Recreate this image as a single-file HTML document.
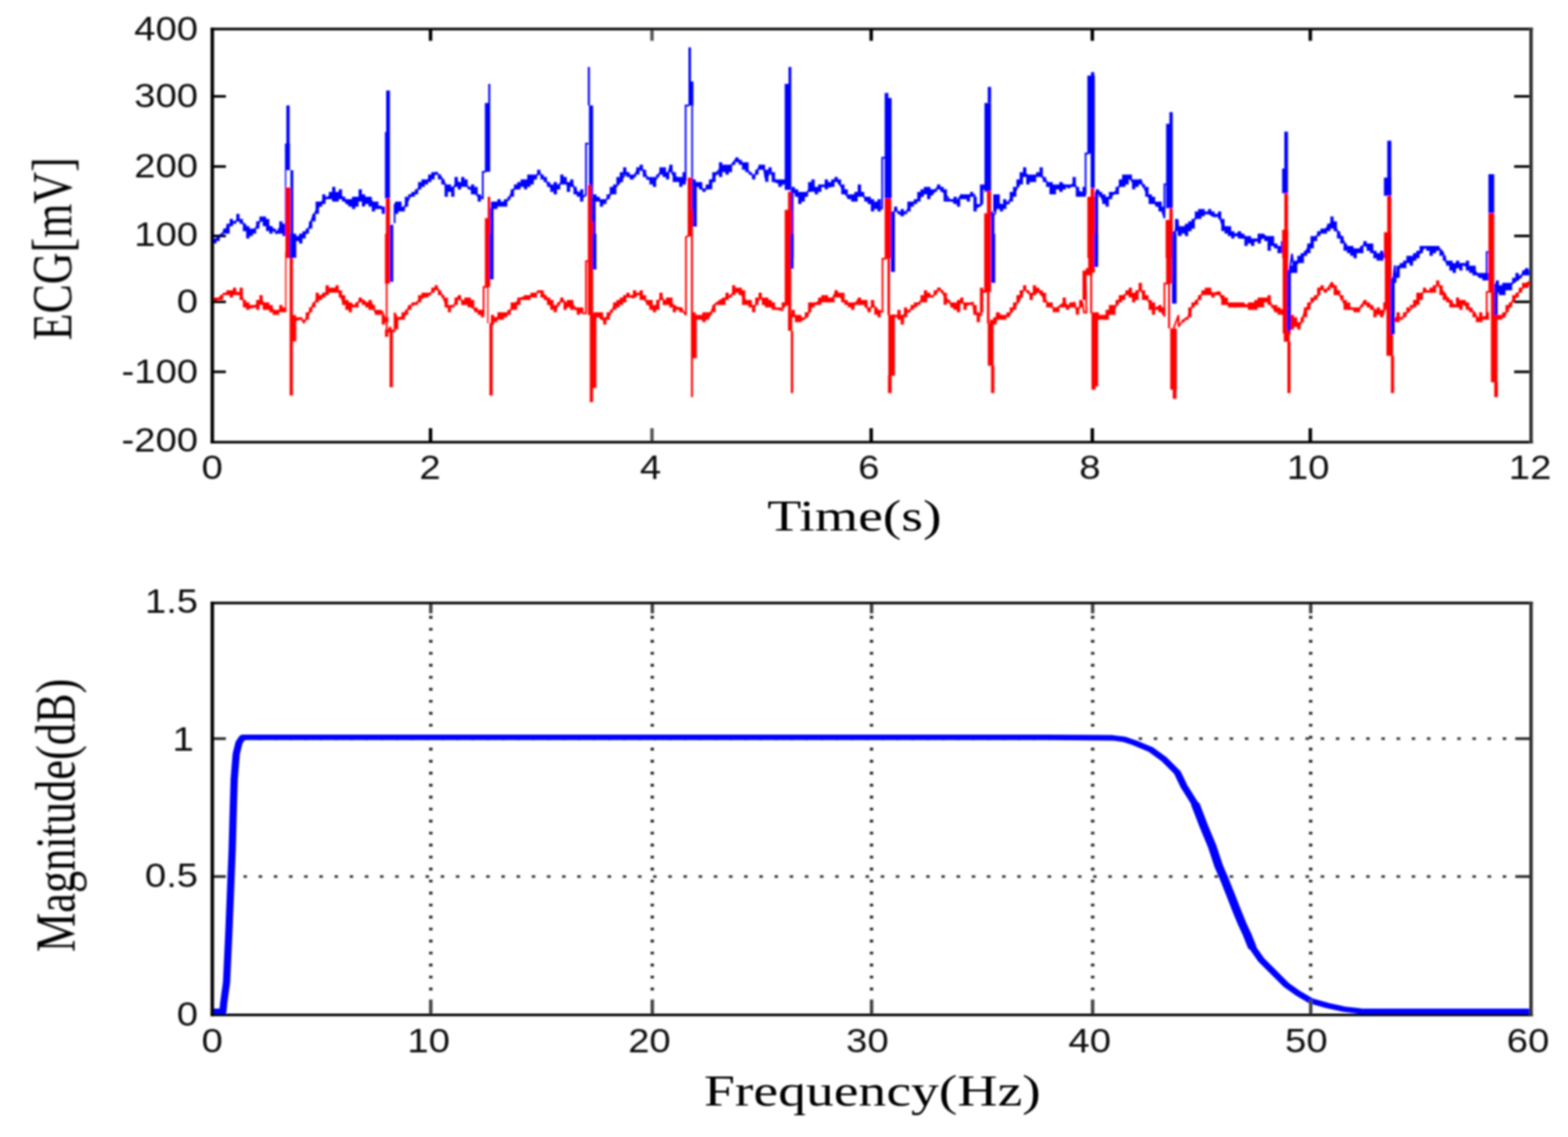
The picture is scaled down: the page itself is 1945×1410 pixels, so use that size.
<!DOCTYPE html>
<html lang="en"><head><meta charset="utf-8"><title>ECG baseline removal and filter magnitude response</title>
<style>
html,body{margin:0;padding:0;background:#fff;}
body{width:1945px;height:1410px;overflow:hidden;}
svg{display:block;}
.tk{font-family:"Liberation Sans",sans-serif;font-size:42px;fill:#111;}
.lb{font-family:"Liberation Serif",serif;font-size:54.5px;fill:#000;}
</style></head><body>
<svg width="1945" height="1410" viewBox="0 0 1945 1410" role="img" aria-label="ECG signals and filter magnitude response">
<defs><filter id="soft" x="-2%" y="-2%" width="104%" height="104%"><feGaussianBlur stdDeviation="0.8"/></filter></defs>
<rect width="1945" height="1410" fill="#fff"/>
<g filter="url(#soft)">
<g id="ecg">
<polyline points="264.7,299.4 272.9,293.2 281.1,283 289.4,275.8 295.5,272.7 301.7,276.8 307.9,285 316.1,285 322.3,274.7 325.3,272.7 330.5,279.9 336.7,281.9 342.8,289.1 346.9,283 354.1,284" fill="none" stroke="#0000ff" stroke-width="2.2" stroke-linejoin="miter" stroke-miterlimit="2"/>
<polyline points="363.4,295.3 368.5,296.3 373.7,293.2 379.8,289.1 384,280.9 388.1,268.6 394.2,258.3 398.4,251.1 404.5,245.9 412.8,240.8 421,239.8 427.1,248 433.3,254.2 439.5,253.1 447.7,243.9 453.9,247 460.1,248 466.2,256.2 472.4,256.2 476.5,262.4" fill="none" stroke="#0000ff" stroke-width="2.2" stroke-linejoin="miter" stroke-miterlimit="2"/>
<polyline points="489.5,276.8 489.5,253.1 493,258.3 501.2,258.3 505.3,250.1 509.4,241.8 515.6,239.8 521.7,229.5 527.9,225.4 534.1,221.3 541.3,214.1 548.5,221.3 554.7,233.6 560.8,235.7 567,225.4 573.2,229.5 579.3,230.5 587.6,237.7 593.7,243.9 598.9,245.9 598.9,213 603,213" fill="none" stroke="#0000ff" stroke-width="2.2" stroke-linejoin="miter" stroke-miterlimit="2"/>
<polyline points="609.3,256.2 616.5,252.1 622.6,252.1 630.8,248 636,235.7 643.2,231.5 651.4,224.3 659.6,225.4 668.9,214.1 676.1,223.3 684.3,233.6 690.5,233.6 696.7,225.4 699.7,221.3 704.9,231.5 710,228.5 715.2,237.7 723.4,243.9 726.9,241.8 726.9,178.1 730,178.1" fill="none" stroke="#0000ff" stroke-width="2.2" stroke-linejoin="miter" stroke-miterlimit="2"/>
<polyline points="737.8,245.9 741.9,248 748.1,251.1 754.2,245.9 760.4,235.7 768.6,226.4 776.9,214.1 785.1,221.3 791.3,209.9 797.4,211 803.6,221.3 811.8,225.4 818,215.1 822.1,209.9 828.3,217.1 831.4,206.9 834.4,216.1 840.6,221.3 848.8,223.3 850.5,223.3 850.5,130.8 855,130.8" fill="none" stroke="#0000ff" stroke-width="2.2" stroke-linejoin="miter" stroke-miterlimit="2"/>
<polyline points="861.2,227.4 865.3,229.5 873.5,235.7 879.7,231.5 885.9,219.2 890,213 896.1,206.9 904.4,208.9 913.6,196.6 920.8,202.8 927,211 935.2,219.2 941.4,207.9 947.6,208.9 949.6,221.3 955.8,213 962,225.4 970.2,228.5 974.3,223.3" fill="none" stroke="#0000ff" stroke-width="2.2" stroke-linejoin="miter" stroke-miterlimit="2"/>
<polyline points="982.2,235.7 986.7,239.8 990.8,243.9 998,243.9 1005.2,232.6 1011.4,235.7 1019.6,230.5 1029.9,231.5 1037.1,221.3 1044.3,232.6 1052.5,245.9 1060.8,245.9 1065.9,235.7 1073.1,245.9 1081.3,253.1 1089.6,258.3 1094.3,258.3 1094.3,195.6 1098.8,195.6" fill="none" stroke="#0000ff" stroke-width="2.2" stroke-linejoin="miter" stroke-miterlimit="2"/>
<polyline points="1107.7,264.4 1111.2,260.3 1118.4,266.5 1124.5,262.4 1130.7,253.1 1138.9,248 1147.1,237.7 1155.4,241.8 1164.6,230.5 1171.8,239.8 1178,248 1186.2,251.1 1192.4,241.8 1200.6,243.9 1208.8,241.8 1209.9,258.3 1217.1,254.2 1218.1,233.6 1222.2,233.6" fill="none" stroke="#0000ff" stroke-width="2.2" stroke-linejoin="miter" stroke-miterlimit="2"/>
<polyline points="1231.9,267.5 1234.6,264.4 1235.6,252.1 1243.8,254.2 1250,252.1 1258.2,239.8 1264.4,227.4 1270.5,214.1 1278.8,221.3 1289,216.1 1295.2,221.3 1301.4,229.5 1309.6,233.6 1317.8,228.5 1326.1,232.6 1332.2,227.4 1338.4,237.7 1344.6,239.8 1346.6,239.8 1346.6,190.4 1350.7,190.4" fill="none" stroke="#0000ff" stroke-width="2.2" stroke-linejoin="miter" stroke-miterlimit="2"/>
<polyline points="1360.1,237.7 1363.2,237.7 1369.4,251.1 1377.6,243.9 1385.8,235.7 1392,224.3 1399.2,218.2 1406.4,227.4 1414.6,223.3 1420.8,235.7 1426.9,248 1435.2,254.2 1441.3,260.3 1444.4,270.6 1444.4,228.5 1449.6,228.5" fill="none" stroke="#0000ff" stroke-width="2.2" stroke-linejoin="miter" stroke-miterlimit="2"/>
<polyline points="1456.8,293.2 1460.9,272.7 1461.9,291.2 1466,285 1472.2,286 1478.4,276.8 1484.5,268.6 1492.8,264.4 1498.9,264.4 1507.1,268.6 1512.3,266.5 1515.4,276.8 1521.5,285 1529.8,291.2 1538,289.1 1546.2,295.3 1554.4,299.4 1562.7,297.4 1568.8,292.2 1575,299.4 1581.2,305.6 1589.4,307.6 1592.5,308.7" fill="none" stroke="#0000ff" stroke-width="2.2" stroke-linejoin="miter" stroke-miterlimit="2"/>
<polyline points="1599.5,335.2 1602.6,314.7 1604.6,331.1 1610.8,325 1617,316.7 1623.1,306.5 1629.3,298.2 1635.5,290 1643.7,285 1651.9,275.8 1658.1,285 1664.3,295.3 1670.4,305.6 1678.7,310.7 1684.8,311.7 1692,303.5 1699.2,307.6 1705.4,313.8 1709.5,320 1715.7,318.8 1718.8,318.8" fill="none" stroke="#0000ff" stroke-width="2.2" stroke-linejoin="miter" stroke-miterlimit="2"/>
<polyline points="1728,347.6 1730.1,329.1 1731.1,345.5 1736.3,330.1 1742.4,327 1748.6,320.8 1750.7,325 1758.9,316.7 1767.1,306.5 1775.3,309.5 1783.6,306.5 1789.7,312.6 1793.8,325 1800,327 1806.2,332.2 1814.4,327 1820.6,331.1 1828.8,335.2 1835,343.5 1843.2,344.5 1844.2,345.5 1844.2,312.6 1848.3,312.6" fill="none" stroke="#0000ff" stroke-width="2.2" stroke-linejoin="miter" stroke-miterlimit="2"/>
<polyline points="1855.5,351.7 1857.6,355.8 1865.8,356.8 1874,352.7 1884.3,345.5 1892.6,334.2 1897.1,336.9" fill="none" stroke="#0000ff" stroke-width="2.2" stroke-linejoin="miter" stroke-miterlimit="2"/>
<path d="M264.4 295.8h4.1v6.1h-4.1zM268.5 292.8h4.1v6.1h-4.1zM272.6 289.8h4.1v3.1h-4.1zM276.7 283.6h4.1v6.1h-4.1zM280.8 277.6h4.1v12.2h-4.1zM284.9 271.4h4.1v9.1h-4.1zM289 274.5h4.1v3.1h-4.1zM293.1 265.3h4.1v9.2h-4.1zM297.2 271.4h4.1v6.1h-4.1zM301.3 277.6h4.1v9.1h-4.1zM305.4 280.6h4.1v15.2h-4.1zM309.5 283.6h4.1v9.1h-4.1zM313.6 283.6h4.1v6.1h-4.1zM317.7 274.5h4.1v9.1h-4.1zM321.8 268.4h4.1v6.1h-4.1zM325.9 268.4h4.1v12.2h-4.1zM330 271.4h4.1v15.2h-4.1zM334.1 280.6h4.1v9.2h-4.1zM338.2 283.6h4.1v3.1h-4.1zM342.3 286.7h4.1v3.1h-4.1zM346.4 274.5h4.1v15.2h-4.1zM350.5 277.6h4.1v15.2h-4.1zM362.8 289.8h4.1v9.1h-4.1zM366.9 292.8h4.1v6.1h-4.1zM371 289.8h4.1v12.2h-4.1zM375.1 286.7h4.1v9.1h-4.1zM379.2 283.6h4.1v6.1h-4.1zM383.3 274.5h4.1v9.1h-4.1zM387.4 265.3h4.1v9.2h-4.1zM391.5 250.1h4.1v15.2h-4.1zM395.6 250.1h4.1v6.1h-4.1zM399.7 240.9h4.1v12.2h-4.1zM403.8 244h4.1v3.1h-4.1zM407.9 237.9h4.1v9.2h-4.1zM412 231.8h4.1v18.3h-4.1zM416.1 237.9h4.1v12.2h-4.1zM420.2 234.8h4.1v12.2h-4.1zM424.3 244h4.1v6.1h-4.1zM428.4 247h4.1v6.1h-4.1zM432.5 247h4.1v9.2h-4.1zM436.6 244h4.1v15.2h-4.1zM440.7 244h4.1v12.2h-4.1zM444.8 234.8h4.1v15.2h-4.1zM448.9 240.9h4.1v15.2h-4.1zM453 244h4.1v9.1h-4.1zM457.1 244h4.1v12.2h-4.1zM461.2 250.1h4.1v12.2h-4.1zM465.3 250.1h4.1v9.2h-4.1zM469.4 256.2h4.1v3.1h-4.1zM473.5 256.2h4.1v9.1h-4.1zM489.9 250.1h4.1v15.2h-4.1zM494 250.1h4.1v12.2h-4.1zM498.1 256.2h4.1v6.1h-4.1zM502.2 244h4.1v12.2h-4.1zM506.3 240.9h4.1v3.1h-4.1zM510.4 237.9h4.1v6.1h-4.1zM514.5 234.8h4.1v6.1h-4.1zM518.6 225.7h4.1v9.2h-4.1zM522.8 222.6h4.1v9.2h-4.1zM526.9 222.6h4.1v6.1h-4.1zM531 216.5h4.1v9.2h-4.1zM535 213.5h4.1v9.1h-4.1zM539.1 213.5h4.1v3.1h-4.1zM543.2 216.5h4.1v6.1h-4.1zM547.4 222.6h4.1v6.1h-4.1zM551.5 228.8h4.1v15.2h-4.1zM555.5 228.8h4.1v9.1h-4.1zM559.6 231.8h4.1v12.2h-4.1zM563.8 219.6h4.1v12.2h-4.1zM567.9 225.7h4.1v9.2h-4.1zM572 219.6h4.1v12.2h-4.1zM576 222.6h4.1v9.2h-4.1zM580.1 231.8h4.1v3.1h-4.1zM584.2 228.8h4.1v12.2h-4.1zM588.4 231.8h4.1v9.2h-4.1zM592.5 240.9h4.1v9.2h-4.1zM608.9 250.1h4.1v9.2h-4.1zM613 250.1h4.1v9.2h-4.1zM617 247h4.1v9.2h-4.1zM621.1 250.1h4.1v6.1h-4.1zM625.2 247h4.1v9.2h-4.1zM629.4 244h4.1v3.1h-4.1zM633.5 234.8h4.1v9.2h-4.1zM637.5 228.8h4.1v6.1h-4.1zM641.6 225.7h4.1v9.2h-4.1zM645.8 222.6h4.1v9.2h-4.1zM649.9 222.6h4.1v12.2h-4.1zM654 216.5h4.1v15.2h-4.1zM658 216.5h4.1v12.2h-4.1zM662.1 216.5h4.1v6.1h-4.1zM666.2 210.4h4.1v6.1h-4.1zM670.4 216.5h4.1v6.1h-4.1zM674.4 219.6h4.1v6.1h-4.1zM678.5 225.7h4.1v6.1h-4.1zM682.6 228.8h4.1v9.1h-4.1zM686.8 225.7h4.1v15.2h-4.1zM690.9 228.8h4.1v6.1h-4.1zM694.9 216.5h4.1v12.2h-4.1zM699 219.6h4.1v9.2h-4.1zM703.1 225.7h4.1v12.2h-4.1zM707.2 222.6h4.1v9.2h-4.1zM711.4 231.8h4.1v9.2h-4.1zM715.4 237.9h4.1v6.1h-4.1zM719.5 234.8h4.1v15.2h-4.1zM735.9 240.9h4.1v9.2h-4.1zM740 244h4.1v6.1h-4.1zM744.1 247h4.1v9.2h-4.1zM748.2 247h4.1v6.1h-4.1zM752.4 240.9h4.1v6.1h-4.1zM756.4 231.8h4.1v9.2h-4.1zM760.5 228.8h4.1v12.2h-4.1zM764.6 219.6h4.1v9.2h-4.1zM768.8 213.5h4.1v12.2h-4.1zM772.9 207.4h4.1v9.2h-4.1zM776.9 213.5h4.1v6.1h-4.1zM781 216.5h4.1v6.1h-4.1zM785.1 216.5h4.1v3.1h-4.1zM789.2 207.4h4.1v9.2h-4.1zM793.4 204.3h4.1v6.1h-4.1zM797.4 210.4h4.1v9.2h-4.1zM801.5 219.6h4.1v3.1h-4.1zM805.6 219.6h4.1v9.2h-4.1zM809.8 219.6h4.1v12.2h-4.1zM813.9 216.5h4.1v3.1h-4.1zM817.9 207.4h4.1v9.2h-4.1zM822 207.4h4.1v12.2h-4.1zM826.1 213.5h4.1v9.1h-4.1zM830.2 204.3h4.1v9.2h-4.1zM834.4 213.5h4.1v12.2h-4.1zM838.4 219.6h4.1v6.1h-4.1zM842.5 219.6h4.1v12.2h-4.1zM846.6 213.5h4.1v15.2h-4.1zM858.9 222.6h4.1v6.1h-4.1zM863 225.7h4.1v6.1h-4.1zM867.1 225.7h4.1v9.2h-4.1zM871.2 234.8h4.1v3.1h-4.1zM875.4 228.8h4.1v6.1h-4.1zM879.4 222.6h4.1v12.2h-4.1zM883.5 213.5h4.1v12.2h-4.1zM887.6 213.5h4.1v3.1h-4.1zM891.8 201.3h4.1v18.3h-4.1zM895.9 204.3h4.1v9.2h-4.1zM899.9 204.3h4.1v12.2h-4.1zM904 204.3h4.1v9.2h-4.1zM908.1 201.3h4.1v3.1h-4.1zM912.2 195.2h4.1v6.1h-4.1zM916.3 198.2h4.1v6.1h-4.1zM920.4 201.3h4.1v9.2h-4.1zM924.5 201.3h4.1v12.2h-4.1zM928.6 213.5h4.1v3.1h-4.1zM932.8 216.5h4.1v6.1h-4.1zM936.8 210.4h4.1v6.1h-4.1zM940.9 204.3h4.1v6.1h-4.1zM945 204.3h4.1v6.1h-4.1zM949.1 210.4h4.1v15.2h-4.1zM953.2 207.4h4.1v6.1h-4.1zM957.3 213.5h4.1v12.2h-4.1zM961.4 222.6h4.1v3.1h-4.1zM965.5 222.6h4.1v9.2h-4.1zM969.6 222.6h4.1v6.1h-4.1zM973.8 222.6h4.1v6.1h-4.1zM981.9 231.8h4.1v6.1h-4.1zM986 234.8h4.1v9.2h-4.1zM990.1 237.9h4.1v15.2h-4.1zM994.2 237.9h4.1v12.2h-4.1zM998.3 237.9h4.1v6.1h-4.1zM1002.4 225.7h4.1v12.2h-4.1zM1006.5 222.6h4.1v15.2h-4.1zM1010.6 231.8h4.1v9.2h-4.1zM1014.8 228.8h4.1v9.1h-4.1zM1018.8 228.8h4.1v3.1h-4.1zM1023 222.6h4.1v12.2h-4.1zM1027 225.7h4.1v6.1h-4.1zM1031.1 222.6h4.1v9.2h-4.1zM1035.2 219.6h4.1v6.1h-4.1zM1039.3 222.6h4.1v6.1h-4.1zM1043.5 228.8h4.1v12.2h-4.1zM1047.5 234.8h4.1v6.1h-4.1zM1051.6 240.9h4.1v6.1h-4.1zM1055.8 240.9h4.1v9.2h-4.1zM1059.8 237.9h4.1v12.2h-4.1zM1064 228.8h4.1v15.2h-4.1zM1068 237.9h4.1v6.1h-4.1zM1072.1 244h4.1v6.1h-4.1zM1076.2 244h4.1v9.1h-4.1zM1080.3 247h4.1v15.3h-4.1zM1084.5 250.1h4.1v9.2h-4.1zM1088.5 247h4.1v15.3h-4.1zM1105 262.3h4.1v9.1h-4.1zM1109 256.2h4.1v6.1h-4.1zM1113.1 262.3h4.1v3.1h-4.1zM1117.2 259.2h4.1v9.1h-4.1zM1121.3 262.3h4.1v3.1h-4.1zM1125.5 250.1h4.1v12.2h-4.1zM1129.5 250.1h4.1v6.1h-4.1zM1133.6 247h4.1v6.1h-4.1zM1137.8 237.9h4.1v12.2h-4.1zM1141.8 234.8h4.1v9.2h-4.1zM1146 231.8h4.1v9.2h-4.1zM1150 231.8h4.1v15.2h-4.1zM1154.1 234.8h4.1v6.1h-4.1zM1158.2 234.8h4.1v3.1h-4.1zM1162.3 228.8h4.1v6.1h-4.1zM1166.5 231.8h4.1v6.1h-4.1zM1170.5 234.8h4.1v15.2h-4.1zM1174.6 247h4.1v3.1h-4.1zM1178.8 247h4.1v3.1h-4.1zM1182.8 244h4.1v9.1h-4.1zM1187 247h4.1v9.2h-4.1zM1191 240.9h4.1v6.1h-4.1zM1195.1 240.9h4.1v6.1h-4.1zM1199.2 240.9h4.1v9.2h-4.1zM1203.3 237.9h4.1v6.1h-4.1zM1207.5 244h4.1v18.3h-4.1zM1211.5 253.1h4.1v3.1h-4.1zM1215.6 228.8h4.1v24.4h-4.1zM1219.8 228.8h4.1v6.1h-4.1zM1228 262.3h4.1v6.1h-4.1zM1232 240.9h4.1v21.4h-4.1zM1236.1 240.9h4.1v18.3h-4.1zM1240.2 253.1h4.1v9.2h-4.1zM1244.3 247h4.1v12.2h-4.1zM1248.5 250.1h4.1v3.1h-4.1zM1252.5 237.9h4.1v12.2h-4.1zM1256.6 231.8h4.1v12.2h-4.1zM1260.8 222.6h4.1v9.2h-4.1zM1264.8 213.5h4.1v15.2h-4.1zM1269 207.4h4.1v12.2h-4.1zM1273 216.5h4.1v12.2h-4.1zM1277.1 216.5h4.1v9.2h-4.1zM1281.2 216.5h4.1v9.2h-4.1zM1285.3 213.5h4.1v6.1h-4.1zM1289.5 207.4h4.1v12.2h-4.1zM1293.5 219.6h4.1v6.1h-4.1zM1297.6 225.7h4.1v6.1h-4.1zM1301.8 225.7h4.1v15.2h-4.1zM1305.8 228.8h4.1v12.2h-4.1zM1310 228.8h4.1v6.1h-4.1zM1314 225.7h4.1v12.2h-4.1zM1318.1 228.8h4.1v6.1h-4.1zM1322.2 228.8h4.1v3.1h-4.1zM1326.3 228.8h4.1v3.1h-4.1zM1330.4 219.6h4.1v12.2h-4.1zM1334.5 231.8h4.1v12.2h-4.1zM1338.6 237.9h4.1v6.1h-4.1zM1342.8 231.8h4.1v12.2h-4.1zM1359.1 234.8h4.1v6.1h-4.1zM1363.2 237.9h4.1v6.1h-4.1zM1367.3 240.9h4.1v12.2h-4.1zM1371.4 244h4.1v12.2h-4.1zM1375.5 237.9h4.1v9.2h-4.1zM1379.6 237.9h4.1v3.1h-4.1zM1383.8 231.8h4.1v9.2h-4.1zM1387.8 222.6h4.1v9.2h-4.1zM1391.9 216.5h4.1v15.2h-4.1zM1396 216.5h4.1v12.2h-4.1zM1400.1 216.5h4.1v6.1h-4.1zM1404.2 222.6h4.1v12.2h-4.1zM1408.3 222.6h4.1v9.2h-4.1zM1412.4 222.6h4.1v6.1h-4.1zM1416.5 228.8h4.1v3.1h-4.1zM1420.6 231.8h4.1v12.2h-4.1zM1424.8 240.9h4.1v12.2h-4.1zM1428.8 244h4.1v9.1h-4.1zM1432.9 250.1h4.1v6.1h-4.1zM1437 250.1h4.1v12.2h-4.1zM1441.1 256.2h4.1v6.1h-4.1zM1453.4 286.7h4.1v12.2h-4.1zM1457.5 271.4h4.1v15.2h-4.1zM1461.6 280.6h4.1v12.2h-4.1zM1465.8 280.6h4.1v9.2h-4.1zM1469.8 277.6h4.1v15.2h-4.1zM1473.9 274.5h4.1v12.2h-4.1zM1478 271.4h4.1v12.2h-4.1zM1482.1 262.3h4.1v9.1h-4.1zM1486.2 259.2h4.1v12.2h-4.1zM1490.3 259.2h4.1v9.1h-4.1zM1494.4 262.3h4.1v3.1h-4.1zM1498.5 259.2h4.1v6.1h-4.1zM1502.6 262.3h4.1v6.1h-4.1zM1506.8 265.3h4.1v3.1h-4.1zM1510.8 262.3h4.1v9.1h-4.1zM1514.9 271.4h4.1v15.2h-4.1zM1519 280.6h4.1v9.2h-4.1zM1523.1 280.6h4.1v12.2h-4.1zM1527.2 286.7h4.1v9.1h-4.1zM1531.3 289.8h4.1v3.1h-4.1zM1535.4 286.7h4.1v9.1h-4.1zM1539.5 289.8h4.1v6.1h-4.1zM1543.6 292.8h4.1v12.2h-4.1zM1547.8 292.8h4.1v9.2h-4.1zM1551.8 295.8h4.1v9.2h-4.1zM1555.9 295.8h4.1v3.1h-4.1zM1560 289.8h4.1v12.2h-4.1zM1564.1 289.8h4.1v6.1h-4.1zM1568.2 292.8h4.1v6.1h-4.1zM1572.3 292.8h4.1v18.3h-4.1zM1576.4 292.8h4.1v12.2h-4.1zM1580.5 301.9h4.1v6.1h-4.1zM1584.6 305h4.1v9.1h-4.1zM1588.8 298.9h4.1v15.2h-4.1zM1596.9 335.5h4.1v6.1h-4.1zM1601 329.4h4.1v9.1h-4.1zM1605.1 323.3h4.1v15.2h-4.1zM1609.2 317.2h4.1v9.1h-4.1zM1613.3 314.1h4.1v12.2h-4.1zM1617.4 311.1h4.1v6.1h-4.1zM1621.5 301.9h4.1v12.2h-4.1zM1625.6 292.8h4.1v15.2h-4.1zM1629.8 292.8h4.1v6.1h-4.1zM1633.8 286.7h4.1v6.1h-4.1zM1637.9 283.6h4.1v6.1h-4.1zM1642 283.6h4.1v6.1h-4.1zM1646.1 277.6h4.1v9.1h-4.1zM1650.2 268.4h4.1v15.2h-4.1zM1654.3 274.5h4.1v12.2h-4.1zM1658.4 286.7h4.1v9.1h-4.1zM1662.5 292.8h4.1v9.2h-4.1zM1666.6 301.9h4.1v9.1h-4.1zM1670.8 305h4.1v9.1h-4.1zM1674.8 305h4.1v12.2h-4.1zM1678.9 308h4.1v12.2h-4.1zM1683 308h4.1v6.1h-4.1zM1687.1 305h4.1v9.1h-4.1zM1691.2 298.9h4.1v6.1h-4.1zM1695.3 301.9h4.1v9.1h-4.1zM1699.4 301.9h4.1v12.2h-4.1zM1703.5 311.1h4.1v9.2h-4.1zM1707.6 314.1h4.1v9.1h-4.1zM1711.8 311.1h4.1v12.2h-4.1zM1715.8 314.1h4.1v6.1h-4.1zM1724 344.6h4.1v9.1h-4.1zM1728.1 344.6h4.1v6.1h-4.1zM1732.2 329.4h4.1v15.2h-4.1zM1736.3 326.3h4.1v6.1h-4.1zM1740.4 323.3h4.1v9.2h-4.1zM1744.5 317.2h4.1v9.1h-4.1zM1748.6 317.2h4.1v12.2h-4.1zM1752.8 314.1h4.1v9.1h-4.1zM1756.8 311.1h4.1v9.2h-4.1zM1760.9 305h4.1v9.1h-4.1zM1765 305h4.1v3.1h-4.1zM1769.1 305h4.1v6.1h-4.1zM1773.2 305h4.1v12.2h-4.1zM1777.3 305h4.1v9.1h-4.1zM1781.4 305h4.1v6.1h-4.1zM1785.5 311.1h4.1v6.1h-4.1zM1789.6 317.2h4.1v6.1h-4.1zM1793.8 323.3h4.1v6.1h-4.1zM1797.8 323.3h4.1v12.2h-4.1zM1801.9 326.3h4.1v12.2h-4.1zM1806 323.3h4.1v9.2h-4.1zM1810.1 326.3h4.1v9.2h-4.1zM1814.2 326.3h4.1v3.1h-4.1zM1818.3 323.3h4.1v12.2h-4.1zM1822.4 329.4h4.1v9.1h-4.1zM1826.5 329.4h4.1v12.2h-4.1zM1830.6 338.5h4.1v3.1h-4.1zM1834.7 338.5h4.1v6.1h-4.1zM1838.8 338.5h4.1v9.2h-4.1zM1842.9 338.5h4.1v9.2h-4.1zM1855.2 347.7h4.1v15.2h-4.1zM1859.3 353.8h4.1v12.2h-4.1zM1863.4 350.8h4.1v15.2h-4.1zM1867.5 350.8h4.1v9.1h-4.1zM1871.6 350.8h4.1v9.1h-4.1zM1875.7 344.6h4.1v6.1h-4.1zM1879.8 338.5h4.1v9.2h-4.1zM1883.9 341.6h4.1v3.1h-4.1zM1888 335.5h4.1v6.1h-4.1zM1892.1 332.4h4.1v9.1h-4.1zM1896.2 335.5h4.1v6.1h-4.1z" fill="#0000ff"/>
<polyline points="264.7,374.3 272.9,369.2 277,365.1 289.4,363 297.6,363 303.8,376.4 309.9,381.5 316.1,380.5 324.3,371.2 328.4,379.5 336.7,380.5 339.7,386.7 346.9,385.6 354.6,386.2" fill="none" stroke="#ff0000" stroke-width="2.2" stroke-linejoin="miter" stroke-miterlimit="2"/>
<polyline points="363.4,392.8 367.5,396.9 373.7,394.9 376.8,400 381.9,391.8 388.1,378.4 394.2,370.2 402.5,364 410.7,361 421,362 425.1,373.3 433.3,376.4 440.5,379.5 447.7,371.2 453.9,375.3 461.1,376.4 466.2,388.7 474.4,386.7 476.5,394.9 479.6,394.9" fill="none" stroke="#ff0000" stroke-width="2.2" stroke-linejoin="miter" stroke-miterlimit="2"/>
<polyline points="484.7,411.3 479.6,410.3 489.5,410.3 489.5,387.7 493,394.9 501.2,392.8 507.4,380.5 515.6,376.4 523.8,369.2 532,366.1 541.3,355.8 548.5,366.1 554.7,380.5 562.9,379.5 568,369.2 575.2,374.3 581.4,376.4 589.6,384.6 597.8,388.7 599.9,388.7 599.9,355.8 605,355.8" fill="none" stroke="#ff0000" stroke-width="2.2" stroke-linejoin="miter" stroke-miterlimit="2"/>
<polyline points="609.3,401.1 612.3,394.9 622.6,392.8 630.8,388.7 637,378.4 647.3,369.2 659.6,367.1 669.9,361 676.1,367.1 684.3,380.5 690.5,381.5 696.7,371.2 702.8,376.4 709,376.4 715.2,383.6 723.4,388.7 726.9,388.7 726.9,323.9 731.6,323.9" fill="none" stroke="#ff0000" stroke-width="2.2" stroke-linejoin="miter" stroke-miterlimit="2"/>
<polyline points="736.8,390.8 741.9,391.8 749.1,396.9 756.3,390.8 762.5,378.4 770.7,372.3 778.9,366.1 785.1,369.2 792.3,364 799.5,371.2 805.7,378.4 811.8,384.6 818,372.3 820.1,367.1 824.2,374.3 830.3,372.3 836.5,380.5 844.7,382.5 850.9,390.8 850.9,294.1 856,291" fill="none" stroke="#ff0000" stroke-width="2.2" stroke-linejoin="miter" stroke-miterlimit="2"/>
<polyline points="859.5,390.8 865.3,392.8 873.5,396.9 879.7,392.8 885.9,378.4 894.1,372.3 904.4,368.1 913.6,359.9 920.8,366.1 927,376.4 935.2,381.5 943.4,368.1 949.6,378.4 955.8,374.3 962,382.5 970.2,384.6 973.3,378.4 976.3,378.4" fill="none" stroke="#ff0000" stroke-width="2.2" stroke-linejoin="miter" stroke-miterlimit="2"/>
<polyline points="981.6,410.3 981.6,390.8 984.7,390.8 992.9,398 1001.1,392.8 1007.3,378.4 1015.5,374.3 1025.8,370.2 1032,372.3 1037.1,361 1044.3,370.2 1050.5,376.4 1058.7,379.5 1064.9,371.2 1073.1,376.4 1077.2,384.6 1083.4,378.4 1089.6,386.7 1094.7,386.7 1094.7,320.8 1099.8,320.8" fill="none" stroke="#ff0000" stroke-width="2.2" stroke-linejoin="miter" stroke-miterlimit="2"/>
<polyline points="1106,390.8 1112.2,391.8 1117.3,394.9 1124.5,387.7 1130.7,382.5 1138.9,376.4 1147.1,369.2 1157.4,367.1 1165.7,357.9 1173.9,370.2 1182.1,380.5 1186.2,382.5 1192.4,374.3 1198.6,378.4 1206.8,375.3 1208.8,388.7 1217.1,390.8 1218.1,362 1223.2,362" fill="none" stroke="#ff0000" stroke-width="2.2" stroke-linejoin="miter" stroke-miterlimit="2"/>
<polyline points="1231.1,401.1 1235.6,399 1236.6,388.7 1243.8,392.8 1252,390.8 1258.2,380.5 1264.4,372.3 1270.5,357.9 1278.8,366.1 1289,361 1295.2,370.2 1301.4,378.4 1309.6,383.6 1319.9,375.3 1326.1,380.5 1332.2,375.3 1336.3,386.7 1342.5,374.3 1344.6,387.7 1347.7,387.7 1346.6,338.3 1351.8,338.3" fill="none" stroke="#ff0000" stroke-width="2.2" stroke-linejoin="miter" stroke-miterlimit="2"/>
<polyline points="1358,388.7 1363.2,392.8 1371.4,392.8 1377.6,385.6 1383.8,380.5 1389.9,369.2 1399.2,363 1406.4,367.1 1414.6,358.9 1420.8,368.1 1426.9,376.4 1432.1,382.5 1437.2,380.5 1443.4,386.7 1444.4,392.8 1444.4,351.7 1449.6,351.7" fill="none" stroke="#ff0000" stroke-width="2.2" stroke-linejoin="miter" stroke-miterlimit="2"/>
<polyline points="1455.7,407.2 1461.9,390.8 1461.9,405.2 1468.1,396.9 1473.2,394.9 1478.4,380.5 1484.5,373.3 1490.7,365.1 1498.9,361 1505.1,364 1512.3,362 1515.4,370.2 1523.6,376.4 1531.8,380.5 1538,376.4 1546.2,378.4 1552.4,380.5 1560.6,378.4 1568.8,372.3 1575,374.3 1581.2,384.6 1589.4,384.6 1593.5,384.6" fill="none" stroke="#ff0000" stroke-width="2.2" stroke-linejoin="miter" stroke-miterlimit="2"/>
<polyline points="1598.9,411.3 1602.6,392.8 1606.7,401.1 1613.9,401.1 1619,384.6 1627.3,374.3 1635.5,366.1 1637.5,357.9 1645.8,359.9 1651.9,350.7 1658.1,359.9 1664.3,370.2 1668.4,378.4 1676.6,382.5 1684.8,385.6 1692,374.3 1699.2,378.4 1705.4,384.6 1715.7,389.7 1718.8,378.4 1719.8,376.4" fill="none" stroke="#ff0000" stroke-width="2.2" stroke-linejoin="miter" stroke-miterlimit="2"/>
<polyline points="1727,405.2 1730.1,394.9 1738.3,394.9 1746.5,386.7 1752.7,380.5 1760.9,370.2 1767.1,359.9 1775.3,362 1783.6,352.7 1791.8,364 1798,374.3 1806.2,379.5 1814.4,376.4 1820.6,380.5 1828.8,387.7 1832.9,394.9 1843.2,392.8 1844.2,394.9 1844.2,362 1850.4,362" fill="none" stroke="#ff0000" stroke-width="2.2" stroke-linejoin="miter" stroke-miterlimit="2"/>
<polyline points="1854.5,396.9 1857.6,394.9 1865.8,392.8 1872,380.5 1878.2,370.2 1886.4,359.9 1894.6,350.7 1899.1,349.6" fill="none" stroke="#ff0000" stroke-width="2.2" stroke-linejoin="miter" stroke-miterlimit="2"/>
<path d="M264.4 369h4.1v6.1h-4.1zM268.5 369h4.1v3.1h-4.1zM272.6 366h4.1v6.1h-4.1zM276.7 362.9h4.1v3.1h-4.1zM280.8 359.9h4.1v6.1h-4.1zM284.9 359.9h4.1v9.1h-4.1zM289 356.8h4.1v9.2h-4.1zM293.1 362.9h4.1v3.1h-4.1zM297.2 356.8h4.1v15.2h-4.1zM301.3 372.1h4.1v9.2h-4.1zM305.4 375.1h4.1v9.1h-4.1zM309.5 378.2h4.1v3.1h-4.1zM313.6 378.2h4.1v3.1h-4.1zM317.7 372.1h4.1v12.2h-4.1zM321.8 366h4.1v12.2h-4.1zM325.9 375.1h4.1v9.1h-4.1zM330 375.1h4.1v9.1h-4.1zM334.1 378.2h4.1v9.1h-4.1zM338.2 384.3h4.1v6.1h-4.1zM342.3 384.3h4.1v6.1h-4.1zM346.4 378.2h4.1v9.1h-4.1zM350.5 381.2h4.1v6.1h-4.1zM362.8 390.4h4.1v12.2h-4.1zM366.9 393.4h4.1v3.1h-4.1zM371 393.4h4.1v3.1h-4.1zM375.1 396.5h4.1v3.1h-4.1zM379.2 387.3h4.1v9.2h-4.1zM383.3 381.2h4.1v6.1h-4.1zM387.4 375.1h4.1v6.1h-4.1zM391.5 362.9h4.1v12.2h-4.1zM395.6 366h4.1v6.1h-4.1zM399.7 362.9h4.1v6.1h-4.1zM403.8 353.8h4.1v12.2h-4.1zM407.9 356.8h4.1v6.1h-4.1zM412 356.8h4.1v6.1h-4.1zM416.1 353.8h4.1v9.2h-4.1zM420.2 359.9h4.1v9.1h-4.1zM424.3 366h4.1v12.2h-4.1zM428.4 372.1h4.1v12.2h-4.1zM432.5 375.1h4.1v12.2h-4.1zM436.6 378.2h4.1v3.1h-4.1zM440.7 375.1h4.1v6.1h-4.1zM444.8 369h4.1v6.1h-4.1zM448.9 372.1h4.1v6.1h-4.1zM453 375.1h4.1v6.1h-4.1zM457.1 372.1h4.1v12.2h-4.1zM461.2 378.2h4.1v6.1h-4.1zM465.3 384.3h4.1v6.1h-4.1zM469.4 384.3h4.1v6.1h-4.1zM473.5 390.4h4.1v12.2h-4.1zM477.6 393.4h4.1v6.1h-4.1zM477.6 408.7h4.1v9.1h-4.1zM481.7 405.6h4.1v6.1h-4.1zM485.8 408.7h4.1v3.1h-4.1zM489.9 393.4h4.1v15.2h-4.1zM494 393.4h4.1v3.1h-4.1zM498.1 387.3h4.1v9.2h-4.1zM502.2 384.3h4.1v6.1h-4.1zM506.3 378.2h4.1v6.1h-4.1zM510.4 375.1h4.1v3.1h-4.1zM514.5 375.1h4.1v3.1h-4.1zM518.6 366h4.1v9.1h-4.1zM522.8 362.9h4.1v6.1h-4.1zM526.9 362.9h4.1v6.1h-4.1zM531 362.9h4.1v3.1h-4.1zM535 356.8h4.1v6.1h-4.1zM539.1 353.8h4.1v6.1h-4.1zM543.2 359.9h4.1v6.1h-4.1zM547.4 366h4.1v3.1h-4.1zM551.5 369.1h4.1v12.2h-4.1zM555.5 378.2h4.1v9.1h-4.1zM559.6 378.2h4.1v3.1h-4.1zM563.8 369h4.1v9.2h-4.1zM567.9 366h4.1v6.1h-4.1zM572 372.1h4.1v6.1h-4.1zM576 369h4.1v9.2h-4.1zM580.1 369h4.1v12.2h-4.1zM584.2 372.1h4.1v9.2h-4.1zM588.4 381.2h4.1v6.1h-4.1zM592.5 384.3h4.1v6.1h-4.1zM596.5 384.3h4.1v9.2h-4.1zM608.9 390.4h4.1v12.2h-4.1zM613 393.4h4.1v6.1h-4.1zM617 387.3h4.1v9.2h-4.1zM621.1 387.3h4.1v9.2h-4.1zM625.2 387.3h4.1v6.1h-4.1zM629.4 384.3h4.1v6.1h-4.1zM633.5 375.1h4.1v9.1h-4.1zM637.5 375.1h4.1v9.1h-4.1zM641.6 369h4.1v9.2h-4.1zM645.8 369h4.1v3.1h-4.1zM649.9 366h4.1v6.1h-4.1zM654 366h4.1v6.1h-4.1zM658 362.9h4.1v6.1h-4.1zM662.1 362.9h4.1v6.1h-4.1zM666.2 359.9h4.1v3.1h-4.1zM670.4 359.9h4.1v9.1h-4.1zM674.4 366h4.1v6.1h-4.1zM678.5 369h4.1v9.2h-4.1zM682.6 372.1h4.1v12.2h-4.1zM686.8 378.2h4.1v9.1h-4.1zM690.9 375.1h4.1v3.1h-4.1zM694.9 369h4.1v6.1h-4.1zM699 375.1h4.1v9.1h-4.1zM703.1 372.1h4.1v9.2h-4.1zM707.2 372.1h4.1v12.2h-4.1zM711.4 381.2h4.1v3.1h-4.1zM715.4 381.2h4.1v9.1h-4.1zM719.5 381.2h4.1v6.1h-4.1zM735.9 387.3h4.1v9.2h-4.1zM740 387.3h4.1v6.1h-4.1zM744.1 387.3h4.1v9.2h-4.1zM748.2 393.4h4.1v9.1h-4.1zM752.4 387.3h4.1v9.2h-4.1zM756.4 384.3h4.1v3.1h-4.1zM760.5 375.1h4.1v9.1h-4.1zM764.6 372.1h4.1v9.2h-4.1zM768.8 369h4.1v9.2h-4.1zM772.9 366h4.1v9.1h-4.1zM776.9 362.9h4.1v6.1h-4.1zM781 366h4.1v3.1h-4.1zM785.1 359.9h4.1v9.1h-4.1zM789.2 362.9h4.1v3.1h-4.1zM793.4 359.9h4.1v12.2h-4.1zM797.4 366h4.1v6.1h-4.1zM801.5 372.1h4.1v6.1h-4.1zM805.6 372.1h4.1v12.2h-4.1zM809.8 378.2h4.1v9.1h-4.1zM813.9 372.1h4.1v12.2h-4.1zM817.9 362.9h4.1v9.1h-4.1zM822 372.1h4.1v6.1h-4.1zM826.1 369h4.1v9.2h-4.1zM830.2 369h4.1v12.2h-4.1zM834.4 378.2h4.1v9.1h-4.1zM838.4 381.2h4.1v3.1h-4.1zM842.5 381.2h4.1v6.1h-4.1zM858.9 387.3h4.1v9.2h-4.1zM863 390.4h4.1v6.1h-4.1zM867.1 390.4h4.1v6.1h-4.1zM871.2 387.3h4.1v12.2h-4.1zM875.4 387.3h4.1v9.2h-4.1zM879.4 387.3h4.1v3.1h-4.1zM883.5 378.2h4.1v9.1h-4.1zM887.6 375.1h4.1v3.1h-4.1zM891.8 372.1h4.1v6.1h-4.1zM895.9 369h4.1v9.2h-4.1zM899.9 362.9h4.1v9.1h-4.1zM904 366h4.1v3.1h-4.1zM908.1 353.8h4.1v12.2h-4.1zM912.2 356.8h4.1v6.1h-4.1zM916.3 356.8h4.1v9.2h-4.1zM920.4 359.9h4.1v18.3h-4.1zM924.5 372.1h4.1v6.1h-4.1zM928.6 372.1h4.1v9.2h-4.1zM932.8 378.2h4.1v9.1h-4.1zM936.8 369h4.1v9.2h-4.1zM940.9 362.9h4.1v6.1h-4.1zM945 369h4.1v9.2h-4.1zM949.1 369h4.1v12.2h-4.1zM953.2 372.1h4.1v9.2h-4.1zM957.3 375.1h4.1v9.1h-4.1zM961.4 381.2h4.1v3.1h-4.1zM965.5 381.2h4.1v3.1h-4.1zM969.6 375.1h4.1v6.1h-4.1zM973.8 375.1h4.1v3.1h-4.1zM981.9 384.3h4.1v9.2h-4.1zM986 390.4h4.1v9.1h-4.1zM990.1 390.4h4.1v9.1h-4.1zM994.2 393.4h4.1v3.1h-4.1zM998.3 387.3h4.1v6.1h-4.1zM1002.4 375.1h4.1v12.2h-4.1zM1006.5 375.1h4.1v6.1h-4.1zM1010.6 375.1h4.1v3.1h-4.1zM1014.8 369h4.1v9.2h-4.1zM1018.8 366h4.1v9.1h-4.1zM1023 366h4.1v9.1h-4.1zM1027 369h4.1v6.1h-4.1zM1031.1 369h4.1v6.1h-4.1zM1035.2 359.9h4.1v9.1h-4.1zM1039.3 362.9h4.1v6.1h-4.1zM1043.5 362.9h4.1v12.2h-4.1zM1047.5 372.1h4.1v6.1h-4.1zM1051.6 375.1h4.1v6.1h-4.1zM1055.8 375.1h4.1v9.1h-4.1zM1059.8 375.1h4.1v3.1h-4.1zM1064 369h4.1v9.2h-4.1zM1068 372.1h4.1v6.1h-4.1zM1072.1 372.1h4.1v9.2h-4.1zM1076.2 381.2h4.1v6.1h-4.1zM1080.3 372.1h4.1v9.2h-4.1zM1084.5 381.2h4.1v9.1h-4.1zM1088.5 384.3h4.1v9.2h-4.1zM1105 390.4h4.1v6.1h-4.1zM1109 390.4h4.1v3.1h-4.1zM1113.1 384.3h4.1v12.2h-4.1zM1117.2 390.4h4.1v12.2h-4.1zM1121.3 381.2h4.1v12.2h-4.1zM1125.5 384.3h4.1v3.1h-4.1zM1129.5 378.2h4.1v6.1h-4.1zM1133.6 375.1h4.1v6.1h-4.1zM1137.8 375.1h4.1v3.1h-4.1zM1141.8 366h4.1v9.1h-4.1zM1146 359.9h4.1v15.2h-4.1zM1150 362.9h4.1v6.1h-4.1zM1154.1 366h4.1v3.1h-4.1zM1158.2 359.9h4.1v6.1h-4.1zM1162.3 356.8h4.1v3.1h-4.1zM1166.5 359.9h4.1v3.1h-4.1zM1170.5 362.9h4.1v15.2h-4.1zM1174.6 372.1h4.1v3.1h-4.1zM1178.8 375.1h4.1v6.1h-4.1zM1182.8 375.1h4.1v9.1h-4.1zM1187 372.1h4.1v15.2h-4.1zM1191 369h4.1v6.1h-4.1zM1195.1 375.1h4.1v9.1h-4.1zM1199.2 375.1h4.1v3.1h-4.1zM1203.3 375.1h4.1v3.1h-4.1zM1207.5 378.2h4.1v12.2h-4.1zM1211.5 387.3h4.1v12.2h-4.1zM1215.6 356.8h4.1v30.5h-4.1zM1219.8 359.9h4.1v3.1h-4.1zM1228 396.5h4.1v9.1h-4.1zM1232 393.4h4.1v9.1h-4.1zM1236.1 387.3h4.1v9.2h-4.1zM1240.2 390.4h4.1v6.1h-4.1zM1244.3 390.4h4.1v6.1h-4.1zM1248.5 387.3h4.1v6.1h-4.1zM1252.5 381.2h4.1v6.1h-4.1zM1256.6 375.1h4.1v9.1h-4.1zM1260.8 366h4.1v9.1h-4.1zM1264.8 359.9h4.1v9.1h-4.1zM1269 353.8h4.1v6.1h-4.1zM1273 359.9h4.1v3.1h-4.1zM1277.1 362.9h4.1v9.1h-4.1zM1281.2 353.8h4.1v12.2h-4.1zM1285.3 356.8h4.1v6.1h-4.1zM1289.5 359.9h4.1v6.1h-4.1zM1293.5 362.9h4.1v12.2h-4.1zM1297.6 375.1h4.1v6.1h-4.1zM1301.8 375.1h4.1v6.1h-4.1zM1305.8 381.2h4.1v6.1h-4.1zM1310 381.2h4.1v6.1h-4.1zM1314 378.2h4.1v3.1h-4.1zM1318.1 369h4.1v12.2h-4.1zM1322.2 378.2h4.1v6.1h-4.1zM1326.3 375.1h4.1v6.1h-4.1zM1330.4 375.1h4.1v6.1h-4.1zM1334.5 381.2h4.1v9.1h-4.1zM1338.6 372.1h4.1v9.2h-4.1zM1342.8 335.5h4.1v36.6h-4.1zM1346.8 332.4h4.1v9.1h-4.1zM1350.9 338.5h4.1v3.1h-4.1zM1355 387.3h4.1v9.2h-4.1zM1359.1 387.3h4.1v9.2h-4.1zM1363.2 390.4h4.1v6.1h-4.1zM1367.3 390.4h4.1v6.1h-4.1zM1371.4 384.3h4.1v12.2h-4.1zM1375.5 378.2h4.1v12.2h-4.1zM1379.6 378.2h4.1v12.2h-4.1zM1383.8 372.1h4.1v6.1h-4.1zM1387.8 366h4.1v9.1h-4.1zM1391.9 366h4.1v6.1h-4.1zM1396 359.9h4.1v6.1h-4.1zM1400.1 356.8h4.1v12.2h-4.1zM1404.2 362.9h4.1v12.2h-4.1zM1408.3 359.9h4.1v12.2h-4.1zM1412.4 350.8h4.1v9.1h-4.1zM1416.5 359.9h4.1v12.2h-4.1zM1420.6 366h4.1v6.1h-4.1zM1424.8 372.1h4.1v12.2h-4.1zM1428.8 375.1h4.1v15.2h-4.1zM1432.9 381.2h4.1v3.1h-4.1zM1437 378.2h4.1v9.1h-4.1zM1441.1 381.2h4.1v9.1h-4.1zM1465.8 396.5h4.1v3.1h-4.1zM1469.8 393.4h4.1v3.1h-4.1zM1473.9 381.2h4.1v12.2h-4.1zM1478 375.1h4.1v6.1h-4.1zM1482.1 372.1h4.1v6.1h-4.1zM1486.2 366h4.1v6.1h-4.1zM1490.3 359.9h4.1v6.1h-4.1zM1494.4 356.8h4.1v9.2h-4.1zM1498.5 356.8h4.1v9.2h-4.1zM1502.6 362.9h4.1v6.1h-4.1zM1506.8 362.9h4.1v3.1h-4.1zM1510.8 362.9h4.1v3.1h-4.1zM1514.9 366h4.1v12.2h-4.1zM1519 369h4.1v9.2h-4.1zM1523.1 375.1h4.1v6.1h-4.1zM1527.2 375.1h4.1v6.1h-4.1zM1531.3 375.1h4.1v6.1h-4.1zM1535.4 375.1h4.1v6.1h-4.1zM1539.5 375.1h4.1v6.1h-4.1zM1543.6 378.2h4.1v3.1h-4.1zM1547.8 375.1h4.1v9.1h-4.1zM1551.8 375.1h4.1v9.1h-4.1zM1555.9 372.1h4.1v12.2h-4.1zM1560 369h4.1v12.2h-4.1zM1564.1 369h4.1v12.2h-4.1zM1568.2 369h4.1v6.1h-4.1zM1572.3 366h4.1v12.2h-4.1zM1576.4 378.2h4.1v3.1h-4.1zM1580.5 378.2h4.1v9.1h-4.1zM1584.6 381.2h4.1v9.1h-4.1zM1588.8 384.3h4.1v6.1h-4.1zM1592.8 381.2h4.1v9.1h-4.1zM1596.9 408.7h4.1v6.1h-4.1zM1601 390.4h4.1v18.3h-4.1zM1605.1 393.4h4.1v12.2h-4.1zM1609.2 399.5h4.1v9.2h-4.1zM1613.3 393.4h4.1v6.1h-4.1zM1617.4 381.2h4.1v12.2h-4.1zM1621.5 375.1h4.1v9.1h-4.1zM1625.6 369h4.1v6.1h-4.1zM1629.8 366h4.1v6.1h-4.1zM1633.8 356.8h4.1v9.2h-4.1zM1637.9 353.8h4.1v6.1h-4.1zM1642 359.9h4.1v3.1h-4.1zM1646.1 356.8h4.1v3.1h-4.1zM1650.2 350.8h4.1v6.1h-4.1zM1654.3 353.8h4.1v12.2h-4.1zM1658.4 359.9h4.1v6.1h-4.1zM1662.5 366h4.1v6.1h-4.1zM1666.6 372.1h4.1v12.2h-4.1zM1670.8 375.1h4.1v9.1h-4.1zM1674.8 381.2h4.1v3.1h-4.1zM1678.9 381.2h4.1v6.1h-4.1zM1683 381.2h4.1v6.1h-4.1zM1687.1 378.2h4.1v3.1h-4.1zM1691.2 372.1h4.1v6.1h-4.1zM1695.3 375.1h4.1v6.1h-4.1zM1699.4 378.2h4.1v6.1h-4.1zM1703.5 384.3h4.1v9.2h-4.1zM1707.6 381.2h4.1v9.1h-4.1zM1711.8 384.3h4.1v9.2h-4.1zM1715.8 375.1h4.1v9.1h-4.1zM1724 399.5h4.1v6.1h-4.1zM1728.1 393.4h4.1v6.1h-4.1zM1732.2 387.3h4.1v12.2h-4.1zM1736.3 393.4h4.1v3.1h-4.1zM1740.4 387.3h4.1v6.1h-4.1zM1744.5 381.2h4.1v6.1h-4.1zM1748.6 378.2h4.1v3.1h-4.1zM1752.8 372.1h4.1v9.2h-4.1zM1756.8 362.9h4.1v15.2h-4.1zM1760.9 362.9h4.1v9.1h-4.1zM1765 356.8h4.1v6.1h-4.1zM1769.1 359.9h4.1v3.1h-4.1zM1773.2 356.8h4.1v6.1h-4.1zM1777.3 353.8h4.1v9.2h-4.1zM1781.4 347.7h4.1v6.1h-4.1zM1785.5 353.8h4.1v12.2h-4.1zM1789.6 362.9h4.1v9.1h-4.1zM1793.8 369h4.1v6.1h-4.1zM1797.8 372.1h4.1v9.2h-4.1zM1801.9 378.2h4.1v3.1h-4.1zM1806 369h4.1v12.2h-4.1zM1810.1 372.1h4.1v12.2h-4.1zM1814.2 372.1h4.1v6.1h-4.1zM1818.3 375.1h4.1v9.1h-4.1zM1822.4 381.2h4.1v6.1h-4.1zM1826.5 387.3h4.1v6.1h-4.1zM1830.6 393.4h4.1v6.1h-4.1zM1834.7 387.3h4.1v12.2h-4.1zM1838.8 393.4h4.1v3.1h-4.1zM1842.9 387.3h4.1v9.2h-4.1zM1851.1 390.4h4.1v9.1h-4.1zM1855.2 390.4h4.1v6.1h-4.1zM1859.3 390.4h4.1v6.1h-4.1zM1863.4 387.3h4.1v6.1h-4.1zM1867.5 378.2h4.1v9.1h-4.1zM1871.6 375.1h4.1v6.1h-4.1zM1875.7 366h4.1v9.1h-4.1zM1879.8 362.9h4.1v6.1h-4.1zM1883.9 356.8h4.1v6.1h-4.1zM1888 350.8h4.1v6.1h-4.1zM1892.1 350.8h4.1v6.1h-4.1zM1896.2 347.7h4.1v6.1h-4.1z" fill="#ff0000"/>
<path d="M353.5 178.1h6.2v32.9h-6.2zM355.2 130.8h4.1v47.3h-4.1zM360.3 211h3.5v109h-3.5zM353.5 211h1.6v74h-1.6zM479 112.3h4.7v51.4h-4.7zM477.5 163.7h6.2v82.3h-6.2zM605.7 104h2.5v23.7h-2.5zM601.5 127.7h6.6v85.3h-6.6zM729.2 83.1h2.5v47.7h-2.5zM730.6 130.8h5.1v144h-5.1zM734.7 245.9h4.1v74h-4.1zM854 58.8h3.1v42.2h-3.1zM854 101h6.2v29.8h-6.2zM857.5 130.8h2.1v96.7h-2.1zM858.1 227.4h6.2v53.5h-6.2zM978.1 83.1h3.5v21h-3.5zM973.4 104h8.2v131.6h-8.2zM980.6 235.7h3.7v84.3h-3.7zM1097.4 115.3h4.5v6.2h-4.5zM1097.4 121.5h8.6v124.4h-8.6zM1225.3 107.7h4.1v19.9h-4.1zM1221.2 127.7h8.2v110h-8.2zM1353.3 89.6h4.1v4.1h-4.1zM1348.8 93.8h9.3v96.7h-9.3zM1352.9 190.4h5.1v43.2h-5.1zM1358 237.7h4.1v82.3h-4.1zM1450.6 139h4.1v14.4h-4.1zM1446.5 153.4h8.2v104.9h-8.2zM1593.1 163.3h4.5v45.7h-4.5zM1590.4 208.9h7.2v30.8h-7.2zM1720.8 174.6h5.1v45.7h-5.1zM1716.7 220.2h9.3v22.6h-9.3zM1846.3 216.1h7.2v48.3h-7.2z" fill="#0000ff"/>
<path d="M354.1 232.6h6.2v87.4h-6.2zM354.1 290h5.1v22.6h-5.1zM353.7 312.6h1.6v74h-1.6zM359.3 312.6h4.1v177.9h-4.1zM362.4 392.8h5.1v30.8h-5.1zM478.6 245.9h5.1v47.3h-5.1zM477.5 293.2h6.2v26.7h-6.2zM477.5 290h6.2v61.7h-6.2zM478.6 351.7h2.1v58.6h-2.1zM483.3 410.3h4.1v69.9h-4.1zM605 243.9h3.1v26.7h-3.1zM601.5 270.6h6.6v49.4h-6.6zM601.5 290h6.6v65.8h-6.6zM604.4 355.8h1.6v45.2h-1.6zM607.1 401.1h4.1v89.5h-4.1zM729.2 229.5h4.5v45.2h-4.5zM729.2 274.7h6.6v45.2h-6.6zM729.2 290h6.6v100.8h-6.6zM731.6 390.8h8.2v90.5h-8.2zM731.6 481.3h4.1v17.5h-4.1zM853 220.2h5.1v73h-5.1zM855 260.3h4.5v32.9h-4.5zM857.1 293.2h2.5v26.7h-2.5zM857.1 290h2.5v202.6h-2.5zM858.7 390.8h5.6v53.5h-5.6zM977.5 237.7h4.1v22.6h-4.1zM973.4 260.3h8.8v59.6h-8.8zM973.4 290h8.2v88.4h-8.2zM977.5 378.4h4.1v31.9h-4.1zM981 410.3h2.9v77.1h-2.9zM1097.4 245.9h8.2v74h-8.2zM1097.4 290h6.6v30.8h-6.6zM1100.9 320.8h3.1v69.9h-3.1zM1101.9 390.8h8.2v75.1h-8.2zM1101.5 465.8h4.5v21.6h-4.5zM1224.3 236.7h5.1v27.8h-5.1zM1220.8 264.4h8.6v55.5h-8.6zM1220.8 290h8.6v72h-8.6zM1224.3 362h3.1v39.1h-3.1zM1225.3 401.1h7.2v52.4h-7.2zM1229.4 453.5h4.1v33.9h-4.1zM1352.9 233.6h4.5v10.3h-4.5zM1348.8 243.9h9.3v76.1h-9.3zM1349.8 290h8.2v48.3h-8.2zM1352.3 338.3h2.5v50.4h-2.5zM1353.9 388.7h8.2v90.5h-8.2zM1353.9 479.2h5.1v4.1h-5.1zM1450.6 258.3h4.1v14.4h-4.1zM1445.9 272.7h8.8v47.3h-8.8zM1446.5 290h7.2v61.7h-7.2zM1448.9 351.7h2.5v55.5h-2.5zM1451.6 407.2h8.2v76.1h-8.2zM1454.7 483.3h4.7v11.3h-4.7zM1593.1 239.8h4.5v45.2h-4.5zM1590.4 285h7.6v35h-7.6zM1591.1 290h6.6v123.4h-6.6zM1592.5 413.4h7.2v10.3h-7.2zM1597 423.7h3.9v63.8h-3.9zM1720.8 242.9h5.1v45.2h-5.1zM1716.7 288.1h9.3v31.9h-9.3zM1717.8 290h8.2v86.4h-8.2zM1719.8 376.4h8.2v64.8h-8.2zM1725.4 441.2h3.9v46.3h-3.9zM1846.3 264.4h7.2v55.5h-7.2zM1846.3 290h7.2v72h-7.2zM1849.4 362h8.2v112.1h-8.2zM1853.5 474.1h4.5v18.5h-4.5z" fill="#ff0000"/>
<path d="M359.3 290h8.2v29.8h-8.2zM483.7 278.8h4.1v41.1h-4.1zM483.7 290h4.1v59.6h-4.1zM608.1 258.3h4.1v61.7h-4.1zM607.1 290h5.1v56.6h-5.1zM734.7 290h5.1v44.2h-5.1zM980.6 290h3.7v43.2h-3.7zM1105 264.4h5.1v55.5h-5.1zM1105 290h5.1v47.3h-5.1zM1229.4 267.5h4.1v52.4h-4.1zM1229.4 290h5.1v60.7h-5.1zM1357 290h5.1v41.1h-5.1zM1454.7 293.2h4.1v26.7h-4.1zM1453.7 290h5.8v86.4h-5.8zM1596.6 335.2h4.7v75.1h-4.7zM1724.9 347.6h5.1v66.8h-5.1zM1853.5 351.7h4.1v39.1h-4.1z" fill="#0000ff"/>
</g>
<g id="axes1">
<rect x="263.3" y="117.9" width="16.9" height="3.2" fill="#000"/>
<rect x="1878.2" y="117.9" width="21" height="3.2" fill="#000"/>
<rect x="263.3" y="204.9" width="16.9" height="3.2" fill="#000"/>
<rect x="1878.2" y="204.9" width="21" height="3.2" fill="#000"/>
<rect x="263.3" y="291" width="16.9" height="3.2" fill="#000"/>
<rect x="1878.2" y="291" width="21" height="3.2" fill="#000"/>
<rect x="263.3" y="372.7" width="16.9" height="3.2" fill="#000"/>
<rect x="1878.2" y="372.7" width="21" height="3.2" fill="#000"/>
<rect x="263.3" y="459.5" width="16.9" height="3.2" fill="#000"/>
<rect x="1878.2" y="459.5" width="21" height="3.2" fill="#000"/>
<rect x="531.9" y="36" width="4.3" height="14.6" fill="#000"/>
<rect x="531.9" y="531" width="4.3" height="17.3" fill="#000"/>
<rect x="806.6" y="36" width="4.3" height="14.6" fill="#555"/>
<rect x="806.6" y="531" width="4.3" height="17.3" fill="#555"/>
<rect x="1078.5" y="36" width="4.3" height="14.6" fill="#000"/>
<rect x="1078.5" y="531" width="4.3" height="17.3" fill="#000"/>
<rect x="1352.8" y="36" width="4.3" height="14.6" fill="#000"/>
<rect x="1352.8" y="531" width="4.3" height="17.3" fill="#000"/>
<rect x="1623.2" y="36" width="4.3" height="14.6" fill="#000"/>
<rect x="1623.2" y="531" width="4.3" height="17.3" fill="#000"/>
<rect x="261.2" y="34.4" width="1640.2" height="3.2" fill="#000"/>
<rect x="261.2" y="546.7" width="1640.2" height="3.2" fill="#000"/>
<rect x="261.2" y="34.4" width="4.3" height="515.5" fill="#000"/>
<rect x="1897" y="34.4" width="4.3" height="515.5" fill="#333"/>
</g>
<g id="axes2">
<line x1="534.4" y1="763.8" x2="534.4" y2="1236" stroke="#222" stroke-width="4.2" stroke-dasharray="3.4 11.47"/>
<line x1="809.1" y1="763.8" x2="809.1" y2="1236" stroke="#222" stroke-width="4.2" stroke-dasharray="3.4 11.47"/>
<line x1="1081.1" y1="763.8" x2="1081.1" y2="1236" stroke="#222" stroke-width="4.2" stroke-dasharray="3.4 11.47"/>
<line x1="1355.4" y1="763.8" x2="1355.4" y2="1236" stroke="#222" stroke-width="4.2" stroke-dasharray="3.4 11.47"/>
<line x1="1625.8" y1="763.8" x2="1625.8" y2="1236" stroke="#222" stroke-width="4.2" stroke-dasharray="3.4 11.47"/>
<line x1="302.1" y1="916" x2="1872" y2="916" stroke="#222" stroke-width="3.2" stroke-dasharray="4.2 14.62"/>
<line x1="302.1" y1="1087" x2="1872" y2="1087" stroke="#222" stroke-width="3.2" stroke-dasharray="4.2 14.62"/>
</g>
<g transform="scale(1.32 1)">
<polyline points="200,1254.2 209.5,1254.2 210.2,1244 212.9,1218 215.2,1152 218.2,1053 219.3,1000 220.1,966 222,935 224.6,921 228,914.4 984.8,914.4 1045.5,915 1056.5,916.8 1065.9,921 1081.4,929.5 1093.9,941.5 1106.4,958 1112.6,975 1123.5,998 1131.3,1024.8 1139.1,1049.5 1145.3,1074.2 1150,1088.6 1156.2,1109 1162.4,1130 1167.4,1146 1172,1159 1176.5,1174 1185.2,1190.4 1197.7,1206.9 1208.6,1221.3 1219.5,1231.5 1232,1241.3 1247.6,1247 1263.2,1251.5 1278.8,1253.8 1303,1254.2 1437.1,1254.2" fill="none" stroke="#0000ff" stroke-width="6.8" stroke-linejoin="round"/>
<polyline points="1123.5,998 1131.3,1024.8 1139.1,1049.5 1145.3,1074.2 1150,1088.6 1156.2,1109 1162.4,1130 1167.4,1146 1172,1159 1176.5,1174" fill="none" stroke="#0000ff" stroke-width="8.2" stroke-linejoin="round" stroke-linecap="round"/>
</g>
<g id="frame2">
<rect x="263.3" y="914.4" width="16.9" height="3.2" fill="#222"/>
<rect x="1879.6" y="914.4" width="19.6" height="3.2" fill="#222"/>
<rect x="263.3" y="1085.4" width="16.9" height="3.2" fill="#222"/>
<rect x="1879.6" y="1085.4" width="19.6" height="3.2" fill="#222"/>
<rect x="532.2" y="747.8" width="4.3" height="12.8" fill="#444"/>
<rect x="532.2" y="1239.5" width="4.3" height="19.1" fill="#444"/>
<rect x="807" y="747.8" width="4.3" height="12.8" fill="#444"/>
<rect x="807" y="1239.5" width="4.3" height="19.1" fill="#444"/>
<rect x="1079" y="747.8" width="4.3" height="12.8" fill="#444"/>
<rect x="1079" y="1239.5" width="4.3" height="19.1" fill="#444"/>
<rect x="1353.2" y="747.8" width="4.3" height="12.8" fill="#444"/>
<rect x="1353.2" y="1239.5" width="4.3" height="19.1" fill="#444"/>
<rect x="1623.7" y="747.8" width="4.3" height="12.8" fill="#444"/>
<rect x="1623.7" y="1239.5" width="4.3" height="19.1" fill="#444"/>
<rect x="261.2" y="746.2" width="1640.2" height="3.2" fill="#000"/>
<rect x="261.2" y="1257" width="1640.2" height="3.2" fill="#000"/>
<rect x="261.2" y="746.2" width="4.3" height="514" fill="#000"/>
<rect x="1897" y="746.2" width="4.3" height="514" fill="#333"/>
</g>
</g>
<g id="ticklabels" filter="url(#soft)">
<text class="tk" transform="translate(245.7 49.7) scale(1.13 1)" text-anchor="end">400</text>
<text class="tk" transform="translate(245.7 133.2) scale(1.13 1)" text-anchor="end">300</text>
<text class="tk" transform="translate(245.7 220.1) scale(1.13 1)" text-anchor="end">200</text>
<text class="tk" transform="translate(245.7 305.3) scale(1.13 1)" text-anchor="end">100</text>
<text class="tk" transform="translate(245.7 388.3) scale(1.13 1)" text-anchor="end">0</text>
<text class="tk" transform="translate(245.7 474.7) scale(1.13 1)" text-anchor="end">-100</text>
<text class="tk" transform="translate(245.7 559.8) scale(1.13 1)" text-anchor="end">-200</text>
<text class="tk" transform="translate(263.2 594.2) scale(1.13 1)" text-anchor="middle">0</text>
<text class="tk" transform="translate(533.4 594.2) scale(1.13 1)" text-anchor="middle">2</text>
<text class="tk" transform="translate(807 594.2) scale(1.13 1)" text-anchor="middle">4</text>
<text class="tk" transform="translate(1077.7 594.2) scale(1.13 1)" text-anchor="middle">6</text>
<text class="tk" transform="translate(1351.9 594.2) scale(1.13 1)" text-anchor="middle">8</text>
<text class="tk" transform="translate(1622.7 594.2) scale(1.13 1)" text-anchor="middle">10</text>
<text class="tk" transform="translate(1897.9 594.2) scale(1.13 1)" text-anchor="middle">12</text>
<text class="tk" transform="translate(245.7 760.1) scale(1.13 1)" text-anchor="end">1.5</text>
<text class="tk" transform="translate(240.4 930.5) scale(1.13 1)" text-anchor="end">1</text>
<text class="tk" transform="translate(245.7 1100.2) scale(1.13 1)" text-anchor="end">0.5</text>
<text class="tk" transform="translate(245.7 1271.7) scale(1.13 1)" text-anchor="end">0</text>
<text class="tk" transform="translate(263.2 1304.9) scale(1.13 1)" text-anchor="middle">0</text>
<text class="tk" transform="translate(531.7 1304.9) scale(1.13 1)" text-anchor="middle">10</text>
<text class="tk" transform="translate(805.6 1304.9) scale(1.13 1)" text-anchor="middle">20</text>
<text class="tk" transform="translate(1076 1304.9) scale(1.13 1)" text-anchor="middle">30</text>
<text class="tk" transform="translate(1351.7 1304.9) scale(1.13 1)" text-anchor="middle">40</text>
<text class="tk" transform="translate(1620.5 1304.9) scale(1.13 1)" text-anchor="middle">50</text>
<text class="tk" transform="translate(1895.4 1304.9) scale(1.13 1)" text-anchor="middle">60</text>
</g>
<g id="axislabels" filter="url(#soft)">
<text class="lb" transform="translate(1059.9 658.1) scale(1.267 1)" text-anchor="middle">Time(s)</text>
<text class="lb" transform="translate(1082.1 1370.6) scale(1.267 1)" text-anchor="middle">Frequency(Hz)</text>
<text class="lb" transform="translate(88.8 308.5) scale(1.275 1) rotate(-90)" text-anchor="middle">ECG[mV]</text>
<text class="lb" style="font-size:55px" transform="translate(92.4 1011.2) scale(1.265 1) rotate(-90)" text-anchor="middle">Magnitude(dB)</text>
</g>
</svg>
</body></html>
